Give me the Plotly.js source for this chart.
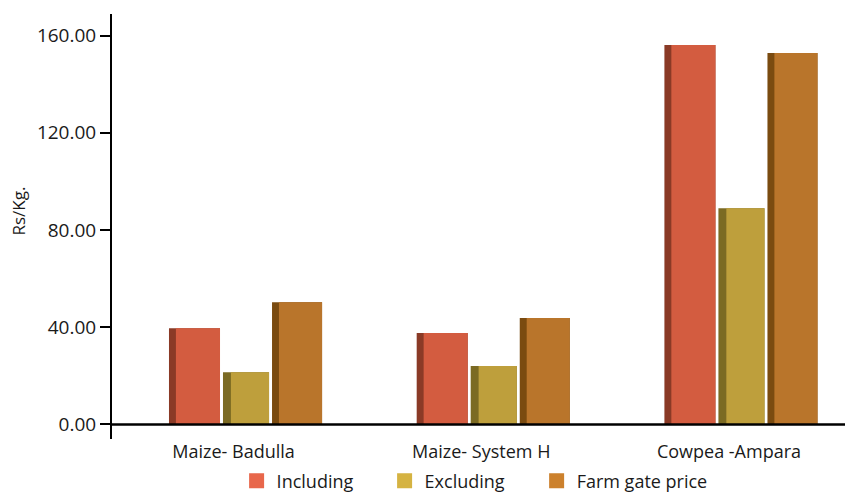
<!DOCTYPE html>
<html>
<head>
<meta charset="utf-8">
<script src="https://cdn.plot.ly/plotly-3.0.1.min.js"></script>
<style>html,body{margin:0;padding:0;background:#fff;}#chart{width:845px;height:492px;}</style>
</head>
<body>
<div id="chart"></div>
<script>
// ---- data ----
const categories = ["Maize- Badulla", "Maize- System H", "Cowpea -Ampara"];
const seriesNames = ["Including", "Excluding", "Farm gate price"];
const including = [39.6, 37.6, 156.1];
const excluding = [21.5, 24.0, 89.0];
const farmGate = [50.3, 43.8, 152.8];
const yTickVals = [0, 40, 80, 120, 160];
const yTitle = "Rs/Kg.";

// ---- style ----
const FONT = "Open Sans, Noto Sans, sans-serif";
const styles = [
  {vals: including, light: "#D35C40", dark: "#8A3A26", legend: "#E8674B", offset: -0.309, width: 0.206, side: 0.028, lg: "legend",  lx: 0.17},
  {vals: excluding, light: "#BE9F3C", dark: "#7B6A23", legend: "#D5B342", offset: -0.091, width: 0.186, side: 0.032, lg: "legend2", lx: 0.3719},
  {vals: farmGate,  light: "#B9752B", dark: "#7A4B10", legend: "#CC812D", offset: 0.107, width: 0.202, side: 0.028, lg: "legend3", lx: 0.5793}
];

const traces = [];
styles.forEach((s, i) => {
  traces.push({
    type: "bar", x: categories, y: s.vals, showlegend: false, hoverinfo: "skip",
    offset: s.offset, width: s.width, marker: {color: s.dark, line: {width: 0}}
  });
  traces.push({
    type: "bar", x: categories, y: s.vals, name: seriesNames[i], showlegend: false,
    offset: s.offset + s.side, width: s.width - s.side, marker: {color: s.light, line: {width: 0}}
  });
});
styles.forEach((s, i) => {
  traces.push({
    type: "bar", x: [categories[0]], y: [null], name: seriesNames[i], showlegend: true,
    legend: s.lg,
    marker: {color: s.legend, line: {width: 3, color: s.legend}}
  });
});

const layout = {
  width: 845, height: 492,
  margin: {l: 112, r: 0, t: 14, b: 53, pad: 0, autoexpand: false},
  paper_bgcolor: "#ffffff", plot_bgcolor: "#ffffff",
  font: {family: FONT, size: 18, color: "#1a1a1a"},
  barmode: "overlay",
  showlegend: true,
  xaxis: {
    type: "category", range: [-0.539, 2.42],
    showline: false, showgrid: false, zeroline: false, ticks: "",
    tickfont: {family: FONT, size: 18, color: "#1a1a1a"},
    ticklabelshift: -12
  },
  yaxis: {
    range: [-6.0, 168.9],
    showline: true, linecolor: "#000", linewidth: 2,
    ticks: "outside", ticklen: 10, tickwidth: 2, tickcolor: "#000",
    tickvals: yTickVals, tickformat: ".2f",
    showgrid: false, zeroline: false,
    tickfont: {family: FONT, size: 19, color: "#1a1a1a"}
  },
  annotations: [{
    text: yTitle, xref: "paper", yref: "paper", x: -0.1269, y: 0.5376,
    xanchor: "center", yanchor: "middle", textangle: -90, showarrow: false,
    font: {family: FONT, size: 17, color: "#1a1a1a"}
  }],
  shapes: [{type: "line", xref: "paper", yref: "y", x0: 0, x1: 1, y0: 0, y1: 0, line: {color: "#000", width: 2.5}, layer: "above"}]
};
styles.forEach(s => {
  layout[s.lg] = {
    orientation: "h", x: s.lx, xanchor: "left", y: -0.099, yanchor: "middle",
    font: {family: FONT, size: 18, color: "#1a1a1a"}, bgcolor: "rgba(0,0,0,0)"
  };
});

Plotly.newPlot("chart", traces, layout, {displayModeBar: false, staticPlot: true});
</script>
</body>
</html>
